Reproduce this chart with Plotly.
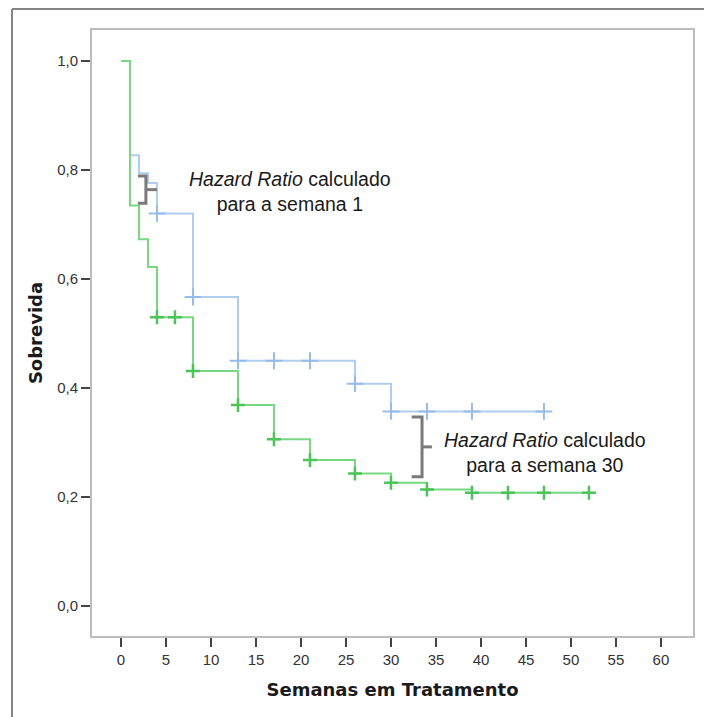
import numpy as np
import plotly.graph_objects as go

# ---- data ----
blue_times = [0, 1, 2, 3, 4, 8, 13, 26, 30, 47]
blue_surv = [1.0, 0.827, 0.794, 0.776, 0.72, 0.567, 0.45, 0.408, 0.357, 0.357]
blue_censor = [4, 8, 13, 17, 21, 26, 30, 34, 39, 47]

green_times = [0, 1, 2, 3, 4, 8, 13, 17, 21, 26, 30, 34, 39, 52]
green_surv = [1.0, 0.735, 0.673, 0.622, 0.53, 0.431, 0.369, 0.306, 0.268, 0.243, 0.226, 0.214, 0.208, 0.208]
green_censor = [4, 6, 8, 13, 17, 21, 26, 30, 34, 39, 43, 47, 52]

x_ticks = [0, 5, 10, 15, 20, 25, 30, 35, 40, 45, 50, 55, 60]
y_ticks = [0.0, 0.2, 0.4, 0.6, 0.8, 1.0]
y_ticklabels = ["0,0", "0,2", "0,4", "0,6", "0,8", "1,0"]


def step_value(times, surv, t):
    idx = np.searchsorted(times, t, side="right") - 1
    return surv[idx]


BLUE = "#aecdef"
BLUE_M = "#96bde9"
GREEN = "#78d882"
GREEN_M = "#4cc459"

fig = go.Figure()
fig.add_trace(go.Scatter(x=blue_times, y=blue_surv, mode="lines", line_shape="hv",
                         line=dict(color=BLUE, width=2), hoverinfo="skip", showlegend=False))
fig.add_trace(go.Scatter(x=blue_censor, y=[step_value(blue_times, blue_surv, t) for t in blue_censor],
                         mode="markers", marker=dict(symbol="cross-thin", size=12,
                                                     line=dict(color=BLUE_M, width=2)),
                         showlegend=False))
fig.add_trace(go.Scatter(x=green_times, y=green_surv, mode="lines", line_shape="hv",
                         line=dict(color=GREEN, width=2), hoverinfo="skip", showlegend=False))
fig.add_trace(go.Scatter(x=green_censor, y=[step_value(green_times, green_surv, t) for t in green_censor],
                         mode="markers", marker=dict(symbol="cross-thin", size=10,
                                                     line=dict(color=GREEN_M, width=2.5)),
                         showlegend=False))

BR = "#7a7a7a"
# bracket for week 1
fig.add_shape(type="path", xref="x", yref="y",
              path="M 1.88,0.789 L 2.77,0.789 L 2.77,0.739 L 1.88,0.739",
              line=dict(color=BR, width=3))
fig.add_shape(type="line", xref="x", yref="y", x0=2.77, x1=3.99, y0=0.764, y1=0.764,
              line=dict(color=BR, width=3))
# bracket for week 30
fig.add_shape(type="path", xref="x", yref="y",
              path="M 32.3,0.347 L 33.45,0.347 L 33.45,0.237 L 32.3,0.237",
              line=dict(color=BR, width=3))
fig.add_shape(type="line", xref="x", yref="y", x0=33.45, x1=34.55, y0=0.292, y1=0.292,
              line=dict(color=BR, width=3))

ann_font = dict(family="Liberation Sans, Arial", size=19.5, color="#1a1a1a")
fig.add_annotation(x=18.8, y=0.761, xref="x", yref="y", showarrow=False, align="center",
                   text="<i>Hazard Ratio</i> calculado<br>para a semana 1", font=ann_font)
fig.add_annotation(x=47.1, y=0.281, xref="x", yref="y", showarrow=False, align="center",
                   text="<i>Hazard Ratio</i> calculado<br>para a semana 30", font=ann_font)

# page has an 8px body margin; figure coords are offset by it
OFF = 8
L, R, T, B = 92 - OFF, 19, 30 - OFF, 81
W, H = 712 - OFF, 717 - OFF
pw, ph = W - L - R, H - T - B
fx = (12 - OFF - L) / pw
fy = (H - B - 1) / ph  # as close to the top as the page allows
fig.add_shape(type="line", xref="paper", yref="paper", x0=fx, x1=1.2, y0=fy, y1=fy,
              line=dict(color="#858585", width=2))
fig.add_shape(type="line", xref="paper", yref="paper", x0=fx, x1=fx, y0=fy, y1=-0.3,
              line=dict(color="#858585", width=2))

tick_font = dict(family="Liberation Sans, Arial", size=15, color="#333333")
title_font = dict(family="DejaVu Sans", size=18, color="#1a1a1a")

fig.update_layout(
    width=W, height=H,
    margin=dict(l=L, r=R, t=T, b=B),
    paper_bgcolor="white", plot_bgcolor="white",
    xaxis=dict(range=[-3.22, 63.56], tickvals=x_ticks, ticktext=[str(v) for v in x_ticks],
               showgrid=False, zeroline=False, showline=True, mirror=True,
               linecolor="#bdbdbd", linewidth=2, ticks="outside", ticklen=9, tickwidth=2,
               tickcolor="#444444", tickfont=tick_font,
               title=dict(text="<b>Semanas em Tratamento</b>", font=title_font, standoff=16)),
    yaxis=dict(range=[-0.055, 1.0569], tickvals=y_ticks, ticktext=y_ticklabels,
               showgrid=False, zeroline=False, showline=True, mirror=True,
               linecolor="#bdbdbd", linewidth=2, ticks="outside", ticklen=9, tickwidth=2,
               tickcolor="#444444", tickfont=tick_font,
               title=dict(text="<b>Sobrevida</b>", font=title_font, standoff=10)),
)

fig.write_html("out.html")
